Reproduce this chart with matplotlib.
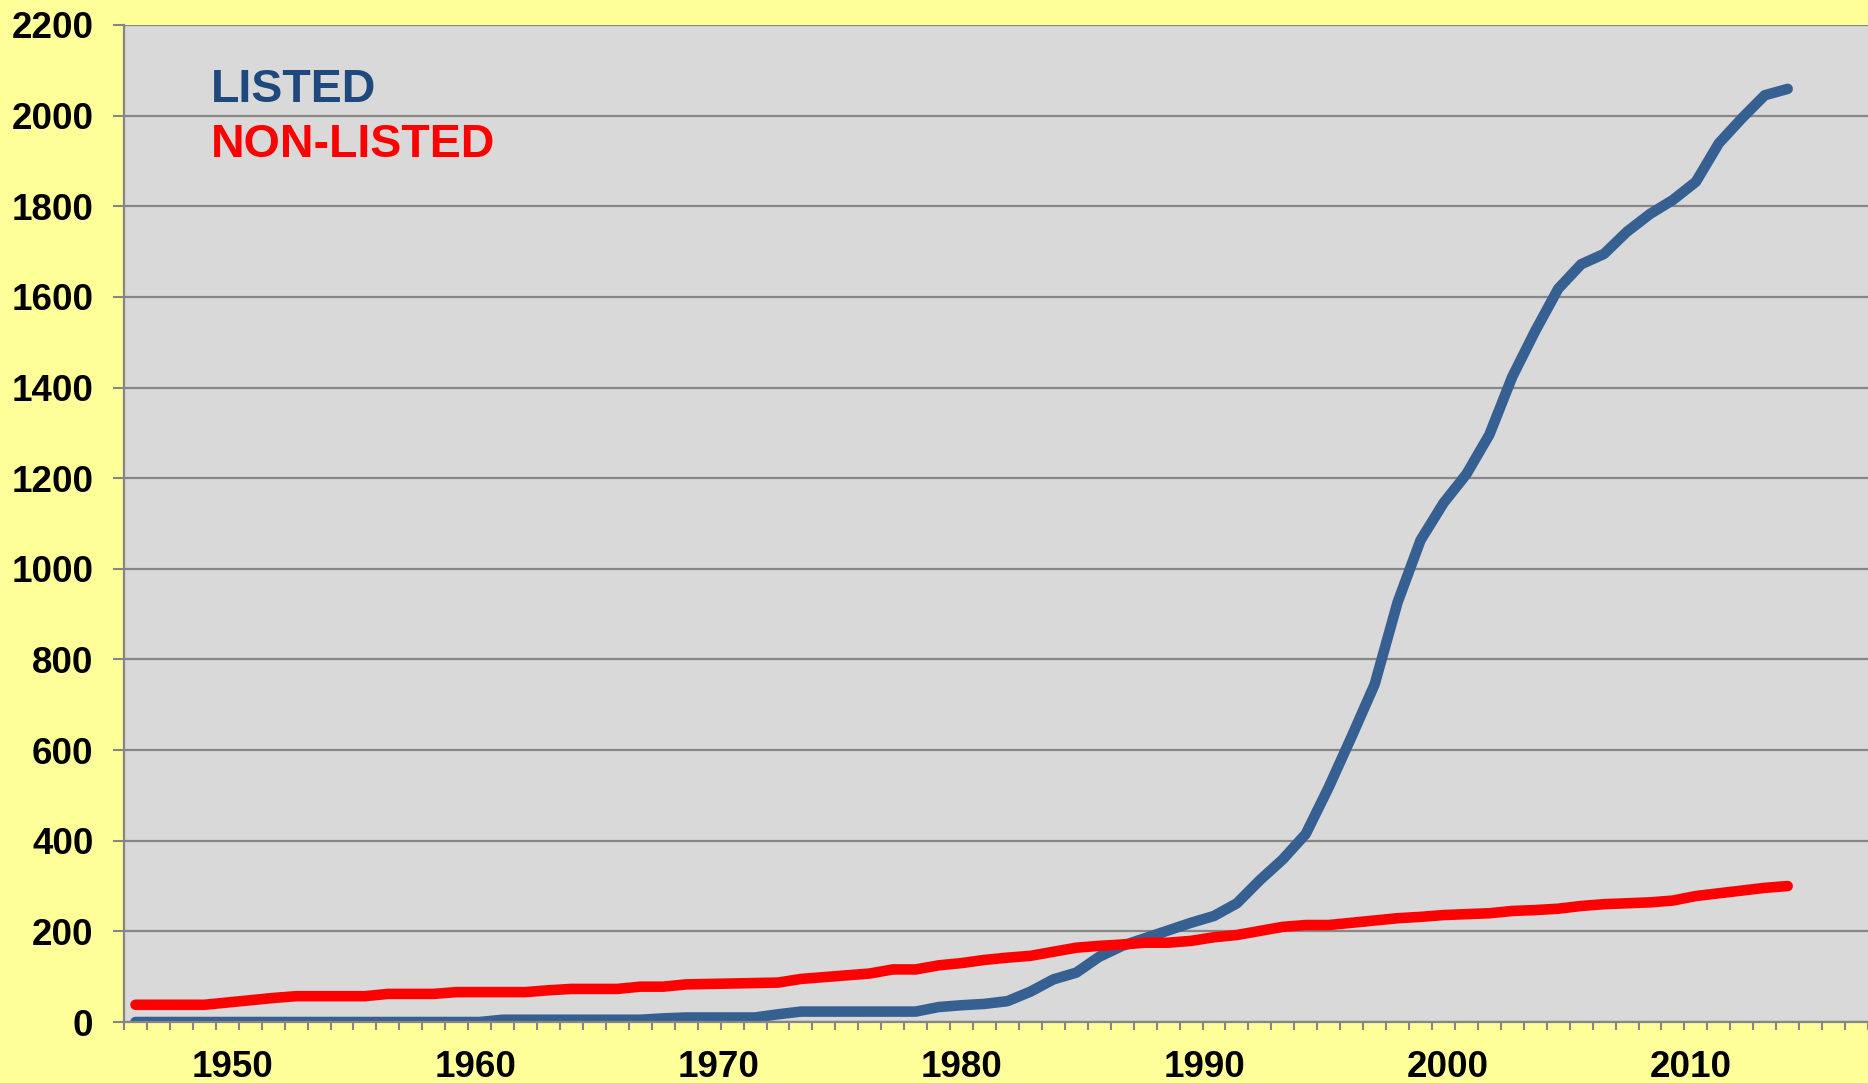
import numpy as np
import matplotlib
matplotlib.use('Agg')
import matplotlib.pyplot as plt

plt.rcParams['font.family'] = ['Liberation Sans', 'DejaVu Sans']
plt.rcParams['font.weight'] = 'bold'

# values, one point per category step (1946 .. 2014)
listed = [0] * 16 + [5] * 7 + [8] + [10] * 4 + [17] + [23] * 6 + [
    33, 37, 40, 46, 67, 94, 109, 144, 168, 185, 202, 219, 234, 262, 313, 359,
    415, 518, 630, 745, 926, 1063, 1145, 1209, 1296, 1424, 1525, 1618, 1672,
    1695, 1744, 1783, 1814, 1854, 1939, 1994, 2045, 2059]
non_listed = [38] * 4 + [43, 48, 53] + [57] * 4 + [62] * 3 + [66] * 4 + [70] + [73] * 3 + [
    78, 78, 83, 84, 85, 86, 87, 95, 99, 103, 107, 116, 116, 125, 130, 137, 142,
    146, 155, 164, 168, 171, 175, 175, 179, 187, 192, 201, 210, 214, 214, 219,
    224, 229, 232, 236, 238, 240, 245, 247, 250, 256, 260, 262, 264, 268, 278,
    284, 290, 296, 300]
first_year, last_year = 1946, 2014
year_labels = [1950, 1960, 1970, 1980, 1990, 2000, 2010]
y_ticks = list(range(0, 2201, 200))

n = len(listed)
x = np.arange(n)
n_cats = 76

fig = plt.figure(figsize=(18.68, 10.83), dpi=100)
fig.patch.set_facecolor('#FFFF99')
ax = fig.add_axes([124 / 1868, 61 / 1083, 1 - 124 / 1868, 997 / 1083])
ax.set_facecolor('#D9D9D9')

ax.plot(x, listed, color='#376092', lw=7.6, solid_capstyle='round', solid_joinstyle='round', zorder=3)
ax.plot(x, non_listed, color='#FF0000', lw=7.6, solid_capstyle='round', solid_joinstyle='round', zorder=4)

ax.set_xlim(-0.5, n_cats - 0.55)
ax.set_ylim(0, 2200)

# year labels sit on a year scale that runs from first to last data point
pos = [(yr - first_year) * (n - 1) / (last_year - first_year) for yr in year_labels]
ax.set_xticks(pos)
ax.set_xticklabels([str(y) for y in year_labels])
ax.set_xticks(np.arange(n_cats + 1) - 0.5, minor=True)
ax.tick_params(axis='x', which='major', length=0, pad=20, labelsize=26.5)
ax.tick_params(axis='x', which='minor', length=6, width=1.5, color='#868686', direction='out')

ax.set_yticks(y_ticks)
ax.tick_params(axis='y', length=8, width=1.5, color='#868686', pad=14, labelsize=26.5)

ax.grid(axis='y', color='#878787', lw=1.6)
ax.set_axisbelow(True)
for s in ['top', 'right']:
    ax.spines[s].set_visible(False)
for s in ['left', 'bottom']:
    ax.spines[s].set_color('#868686')
    ax.spines[s].set_linewidth(1.6)
    ax.spines[s].set_zorder(5)

fig.text(211 / 1868, 1 - 102 / 1083, 'LISTED', color='#1F497D', fontsize=33.5,
         fontweight='bold', va='baseline', ha='left')
fig.text(211 / 1868, 1 - 157 / 1083, 'NON-LISTED', color='#FF0000', fontsize=33.5,
         fontweight='bold', va='baseline', ha='left')

fig.savefig('out.png', dpi=100, facecolor=fig.get_facecolor())
